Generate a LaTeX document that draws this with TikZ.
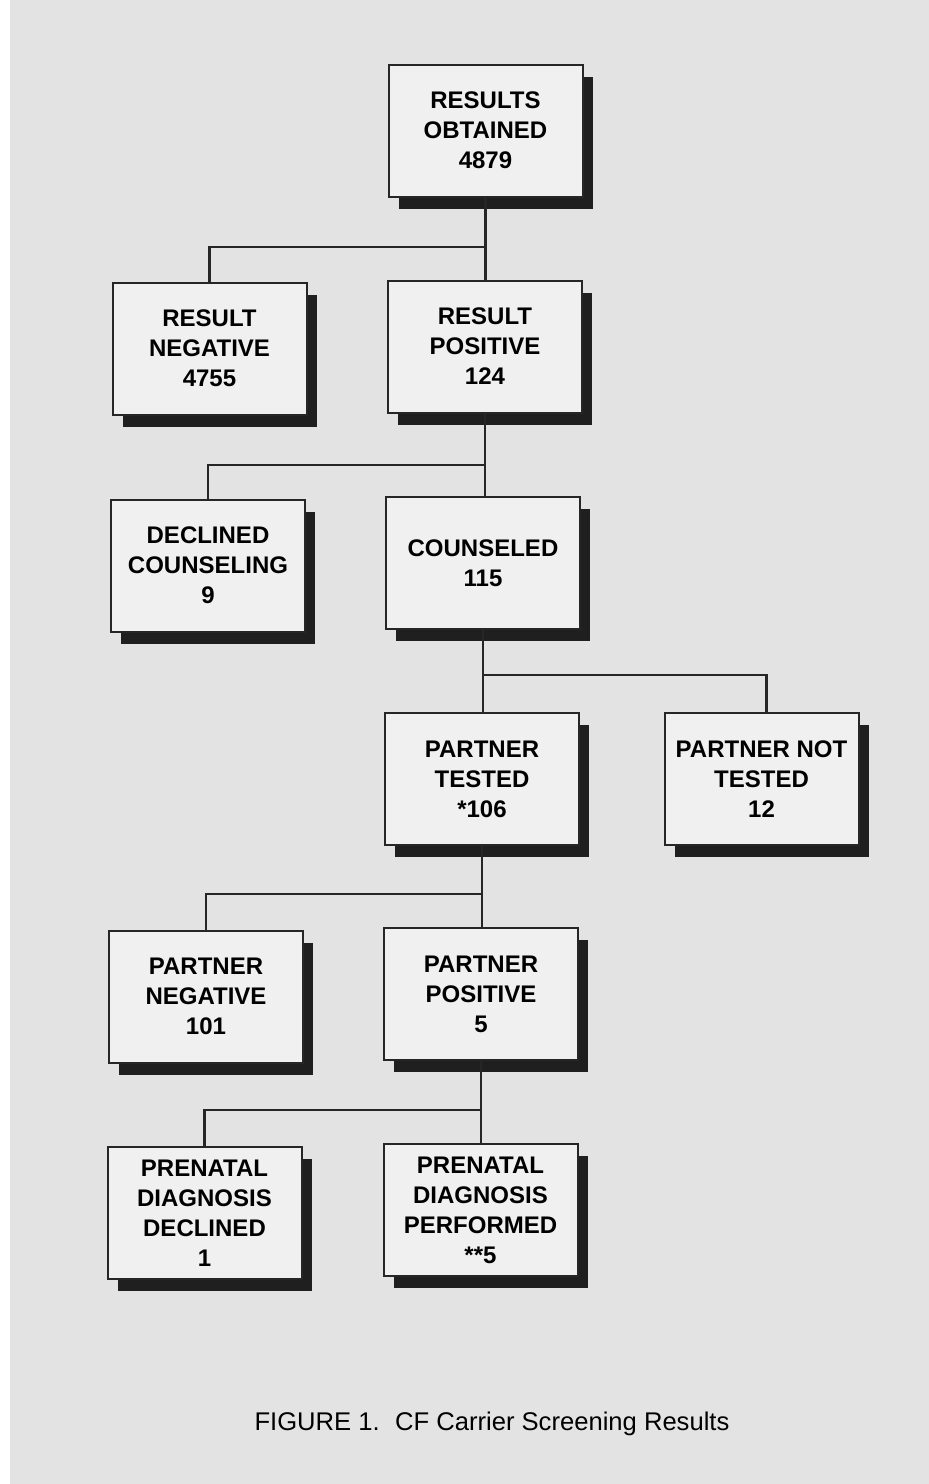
\documentclass[tikz,border=0pt]{standalone}
\usepackage{fontspec}
\setmainfont{Liberation Sans}
\usetikzlibrary{shadows}

\begin{document}
\begin{tikzpicture}[x=0.5pt,y=-0.5pt,
    box/.style={draw=black!85, line width=1pt, fill=black!6,
      minimum width=97pt, minimum height=66pt, inner sep=0pt, align=center,
      font=\bfseries\fontsize{12}{15}\selectfont,
      drop shadow={shadow xshift=5pt, shadow yshift=-6pt, fill=black!88, opacity=1}},
    link/.style={line width=1.3pt, draw=black!85}]
  \useasboundingbox (0,0) rectangle (929,1484);
  \fill[white] (0,0) rectangle (929,1484);
  \fill[black!11] (10,0) rectangle (929,1484);
  \draw
    (485.5,130.5) node[box] (obt) {RESULTS\\OBTAINED\\4879}
    (209.5,348.5) node[box] (neg) {RESULT\\NEGATIVE\\4755}
    (485,346.5) node[box] (pos) {RESULT\\POSITIVE\\124}
    (208,565.5) node[box] (decl) {DECLINED\\COUNSELING\\9}
    (483,563) node[box] (couns) {COUNSELED\\115}
    (482,779) node[box] (ptest) {PARTNER\\TESTED\\*106}
    (761.5,779) node[box] (pnot) {PARTNER NOT\\TESTED\\12}
    (206,996.5) node[box] (pneg) {PARTNER\\NEGATIVE\\101}
    (481,994) node[box] (ppos) {PARTNER\\POSITIVE\\5}
    (204.5,1213) node[box] (pdecl) {PRENATAL\\DIAGNOSIS\\DECLINED\\1}
    (480.5,1210) node[box] (pperf) {PRENATAL\\DIAGNOSIS\\PERFORMED\\**5};
  \coordinate (j1) at (0,247);
  \coordinate (j2) at (0,465);
  \coordinate (j3) at (0,675);
  \coordinate (j4) at (0,894);
  \coordinate (j5) at (0,1110);
  \begin{scope}[link]
    \draw (obt.south) -- (obt.south |- pos.north);
    \draw (obt.south |- j1) -| (neg.north);
    \draw (pos.south) -- (pos.south |- couns.north);
    \draw (pos.south |- j2) -| (decl.north);
    \draw (couns.south) -- (couns.south |- ptest.north);
    \draw (couns.south |- j3) -| ([xshift=2.5pt]pnot.north);
    \draw (ptest.south) -- (ptest.south |- ppos.north);
    \draw (ptest.south |- j4) -| (pneg.north);
    \draw (ppos.south) -- (ppos.south |- pperf.north);
    \draw (ppos.south |- j5) -| (pdecl.north);
  \end{scope}
  \node[font=\fontsize{12.8}{15}\selectfont, anchor=base] (cap) at (492,1430)
    {FIGURE 1.\hspace{0.6em}CF Carrier Screening Results};
\end{tikzpicture}
\end{document}
